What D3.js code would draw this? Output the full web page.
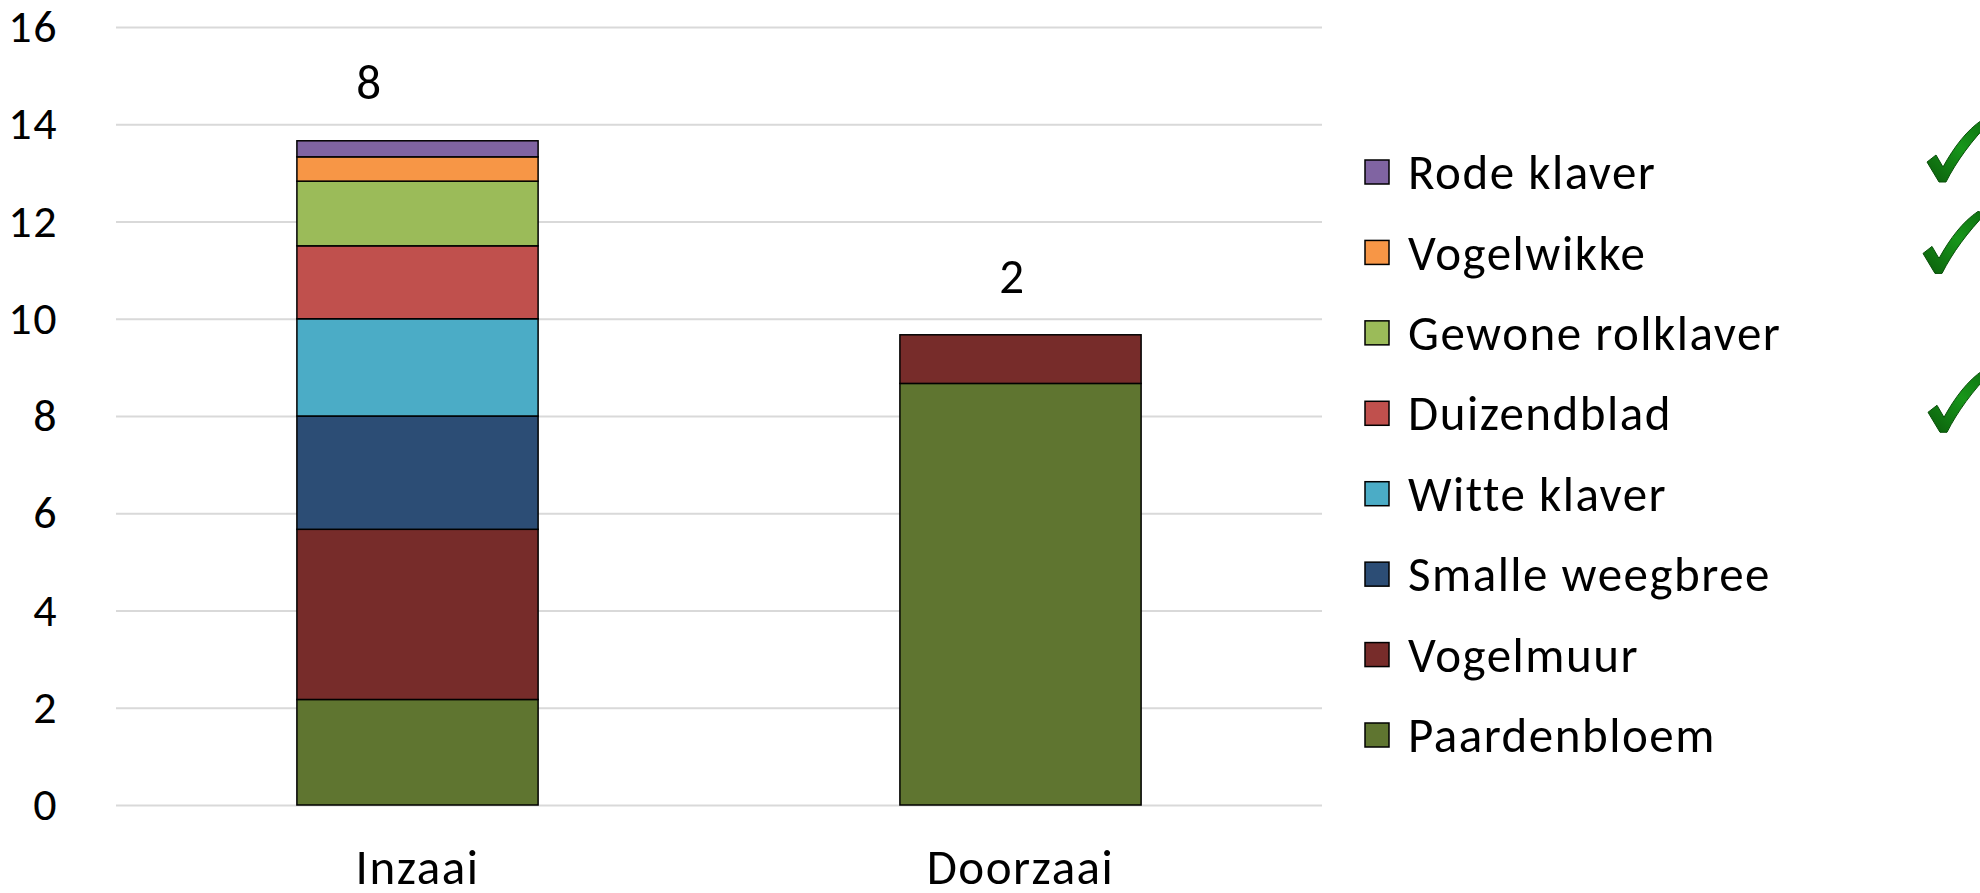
<html>
<head>
  <title>Inzaai vs Doorzaai</title>
  <script src="https://d3js.org/d3.v7.min.js"></script>
  <style>
    body { margin: 0; background: #fff; }
    svg text { font-family: Calibri, Carlito, Lato, sans-serif; fill: #000; letter-spacing: 1.5px; }
    /* light grey gridlines, no domain */
    .gridlines line { stroke: #d9d9d9; stroke-width: 2; }
    .gridlines .domain { stroke: none; }
    .axis .domain { stroke: none; }
  </style>
</head>
<body>
  <svg id="chart" width="1980" height="893"></svg>

  <script>
    // data (average number of plants per species)
    const categories = ["Inzaai", "Doorzaai"];
    const species = ["Paardenbloem", "Vogelmuur", "Smalle weegbree", "Witte klaver",
      "Duizendblad", "Gewone rolklaver", "Vogelwikke", "Rode klaver"];
    const inzaaiValues = [2.17, 3.5, 2.33, 2.0, 1.5, 1.33, 0.5, 0.33];
    const doorzaaiValues = [8.67, 1.0, 0, 0, 0, 0, 0, 0];
    const speciesCounts = [8, 2];
    const yTicks = [0, 2, 4, 6, 8, 10, 12, 14, 16];
    const checkedSpecies = ["Rode klaver", "Vogelwikke", "Duizendblad"];
    const colors = ["#5f7530", "#772c2a", "#2c4d75", "#4bacc6",
      "#c0504d", "#9bbb59", "#f79646", "#8064a2"];

    const svg = d3.select("svg#chart");
    const margin = { top: 27, left: 116 };
    const chartWidth = 1206;
    const chartHeight = 778;
    const fontSize = 49;

    // build rows for d3.stack
    const valuesByCat = [inzaaiValues, doorzaaiValues];
    const table = categories.map((c, i) => {
      let row = { cat: c };
      species.forEach((s, j) => row[s] = valuesByCat[i][j]);
      return row;
    });
    const series = d3.stack().keys(species)(table);

    const xScale = d3.scaleBand().domain(categories).range([0, chartWidth])
      .paddingInner(0.6).paddingOuter(0.3);
    const yScale = d3.scaleLinear().domain([0, 16]).range([chartHeight, 0]);
    const colorScale = d3.scaleOrdinal().domain(species).range(colors);

    let annotations = svg.append("g").attr("id", "annotations");
    let chartArea = svg.append("g")
      .attr("transform", `translate(${margin.left},${margin.top})`);

    let gridlines = d3.axisLeft(yScale).tickValues(yTicks).tickSize(-chartWidth).tickFormat("");
    annotations.append("g")
      .attr("class", "gridlines")
      .attr("transform", `translate(${margin.left},${margin.top})`)
      .call(gridlines);

    let leftAxis = d3.axisLeft(yScale).tickValues(yTicks).tickSize(0).tickPadding(58);
    annotations.append("g")
      .attr("class", "y axis")
      .attr("transform", `translate(${margin.left},${margin.top})`)
      .call(leftAxis)
      .selectAll("text").style("font-size", "46px");

    let bottomAxis = d3.axisBottom(xScale).tickSize(0).tickPadding(44);
    annotations.append("g")
      .attr("class", "x axis")
      .attr("transform", `translate(${margin.left},${margin.top + chartHeight})`)
      .call(bottomAxis)
      .selectAll("text").style("font-size", fontSize + "px");

    // stacked segments, skip empty ones
    chartArea.selectAll("g.series").data(series)
      .join("g")
      .attr("class", "series")
      .attr("fill", d => colorScale(d.key))
      .selectAll("rect")
      .data(d => d.filter(p => p[1] - p[0] > 0))
      .join("rect")
      .attr("x", d => xScale(d.data.cat))
      .attr("y", d => yScale(d[1]))
      .attr("width", xScale.bandwidth())
      .attr("height", d => yScale(d[0]) - yScale(d[1]))
      .attr("stroke", "#000")
      .attr("stroke-width", 1.5);

    // count labels above the bars
    const labelDx = [-48, -8];
    chartArea.selectAll("text.count").data(categories)
      .join("text")
      .attr("class", "count")
      .attr("x", (d, i) => xScale(d) + xScale.bandwidth() / 2 + labelDx[i])
      .attr("y", (d, i) => yScale(d3.sum(valuesByCat[i])) - 42)
      .attr("text-anchor", "middle")
      .style("font-size", fontSize + "px")
      .text((d, i) => speciesCounts[i]);

    // legend, top to bottom reversed stacking order
    const legendOrder = species.slice().reverse();
    const legendY = d3.scalePoint().domain(legendOrder).range([172, 735]);
    let legend = svg.append("g").attr("id", "legend");
    let items = legend.selectAll("g.item").data(legendOrder)
      .join("g")
      .attr("class", "item")
      .attr("transform", d => `translate(1365,${legendY(d)})`);
    items.append("rect")
      .attr("x", 0).attr("y", -12)
      .attr("width", 24).attr("height", 24)
      .attr("fill", d => colorScale(d))
      .attr("stroke", "#000").attr("stroke-width", 1.5);
    items.append("text")
      .attr("x", 43).attr("dy", "0.35em")
      .style("font-size", fontSize + "px")
      .text(d => d);

    // green check marks next to some legend entries
    const defs = svg.append("defs");
    const grad = defs.append("linearGradient").attr("id", "checkGrad")
      .attr("x1", "0").attr("y1", "1").attr("x2", "1").attr("y2", "0");
    grad.append("stop").attr("offset", "0%").attr("stop-color", "#0b5c0b");
    grad.append("stop").attr("offset", "55%").attr("stop-color", "#17961a");
    grad.append("stop").attr("offset", "100%").attr("stop-color", "#0e6e10");

    const checkPath = "M-15,-20 L-6,-27 L1,-15 C12,-35 25,-52 40,-62 L48,-60 C30,-42 14,-20 4,0 L-3,0 Z";
    const checkDy = [10, 21, 19];
    const checkDx = [0, -4, 1];
    legend.selectAll("path.check").data(checkedSpecies)
      .join("path")
      .attr("class", "check")
      .attr("d", checkPath)
      .attr("fill", "url(#checkGrad)")
      .attr("stroke", "#0a4f0a").attr("stroke-width", 1)
      .attr("transform", (d, i) => `translate(${1942 + checkDx[i]},${legendY(d) + checkDy[i]})`);
  </script>
</body>
</html>
